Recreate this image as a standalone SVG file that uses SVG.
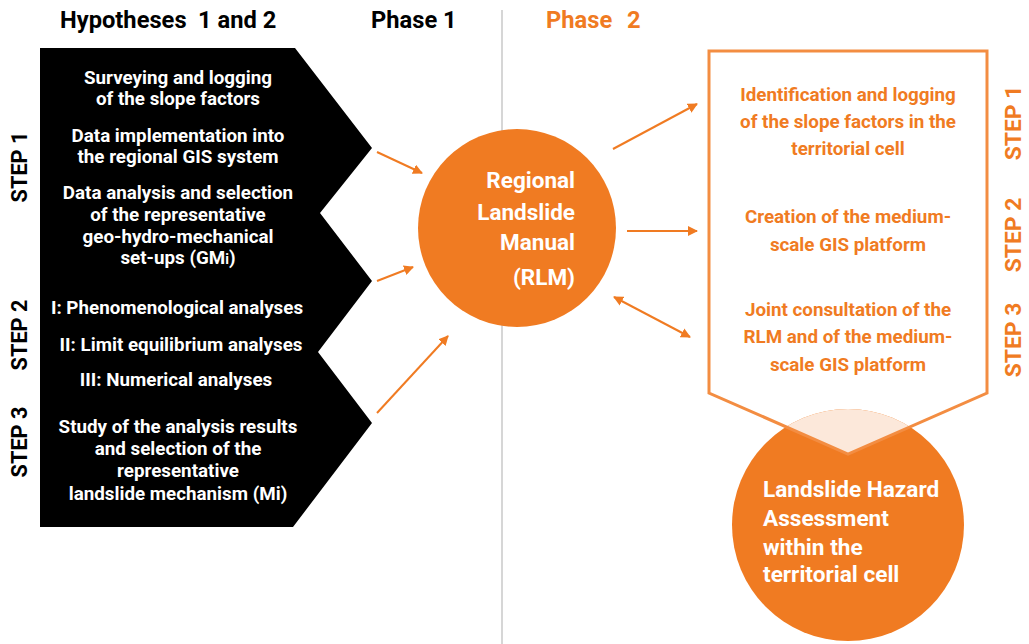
<svg xmlns="http://www.w3.org/2000/svg" width="1029" height="644" viewBox="0 0 1029 644">
<style>
text{font-family:Roboto,"Liberation Sans",sans-serif;font-weight:700}
.hdr{font-size:23.7px;fill:#000}
.wt{font-size:18.8px;fill:#fff;text-anchor:middle}
.ot{font-size:18.8px;fill:#F07B22;text-anchor:middle}
.stepL{font-size:21.7px;fill:#000;text-anchor:middle}
.stepR{font-size:22.9px;fill:#F07B22;text-anchor:middle}
.big{font-size:22.6px;fill:#fff}
.conn{stroke:#F07B22;stroke-width:2;fill:none}
</style>
<defs>
<marker id="ah" viewBox="0 0 10 10" refX="9" refY="5" markerWidth="5" markerHeight="5" orient="auto-start-reverse">
<path d="M0,0 L10,5 L0,10 z" fill="#F07B22"/>
</marker>
<clipPath id="pent"><polygon points="709,51 987,51 987,393 848,454 709,393"/></clipPath>
</defs>
<rect width="1029" height="644" fill="#fff"/>
<line x1="502" y1="10" x2="502" y2="644" stroke="#C8C8C8" stroke-width="1.5"/>
<g id="headers">
<text class="hdr" x="60" y="28">Hypotheses</text>
<text class="hdr" x="198" y="28">1 and 2</text>
<text class="hdr" x="371" y="28">Phase 1</text>
<text class="hdr" x="546" y="28" style="fill:#F07B22">Phase</text>
<text class="hdr" x="627" y="28" style="fill:#F07B22">2</text>
</g>
<g id="hypotheses">
<polygon points="40,48 295,48 372,148 320,213 372,281 318,352 372,423 293,527 40,527" fill="#000"/>
<text class="wt" x="178" y="84">Surveying and logging</text>
<text class="wt" x="178" y="105">of the slope factors</text>
<text class="wt" x="178" y="142">Data implementation into</text>
<text class="wt" x="178" y="163">the regional GIS system</text>
<text class="wt" x="178" y="199">Data analysis and selection</text>
<text class="wt" x="178" y="221">of the representative</text>
<text class="wt" x="178" y="243">geo-hydro-mechanical</text>
<text class="wt" x="178" y="264">set-ups (GM<tspan font-size="14">i</tspan>)</text>
<text class="wt" x="177" y="314">I: Phenomenological analyses</text>
<text class="wt" x="181" y="351">II: Limit equilibrium analyses</text>
<text class="wt" x="176" y="386">III: Numerical analyses</text>
<text class="wt" x="178" y="433">Study of the analysis results</text>
<text class="wt" x="178" y="455">and selection of the</text>
<text class="wt" x="178" y="477">representative</text>
<text class="wt" x="178" y="500">landslide mechanism (Mi)</text>
</g>
<g id="steps-left">
<text class="stepL" transform="translate(27,167) rotate(-90)">STEP 1</text>
<text class="stepL" transform="translate(27,335) rotate(-90)">STEP 2</text>
<text class="stepL" transform="translate(27,442) rotate(-90)">STEP 3</text>
</g>
<g id="rlm">
<circle cx="517" cy="228" r="99" fill="#F07B22"/>
<text x="575" y="188" font-size="22.5" fill="#fff" text-anchor="end">Regional</text>
<text x="575" y="220" font-size="22.5" fill="#fff" text-anchor="end">Landslide</text>
<text x="575" y="250" font-size="22.5" fill="#fff" text-anchor="end">Manual</text>
<text x="575" y="285" font-size="22.5" fill="#fff" text-anchor="end">(RLM)</text>
</g>
<g id="hazard">
<circle cx="848" cy="525" r="116" fill="#F07B22"/>
<circle cx="848" cy="525" r="116" fill="#FCE8DA" clip-path="url(#pent)"/>
<text class="big" x="763" y="497">Landslide Hazard</text>
<text class="big" x="763" y="526">Assessment</text>
<text class="big" x="763" y="555">within the</text>
<text class="big" x="763" y="582">territorial cell</text>
</g>
<g id="phase2-box">
<polygon points="709,51 987,51 987,393 848,454 709,393" fill="none" stroke="#F38D42" stroke-width="3"/>
<text class="ot" x="848" y="101">Identification and logging</text>
<text class="ot" x="848" y="128">of the slope factors in the</text>
<text class="ot" x="848" y="155">territorial cell</text>
<text class="ot" x="848" y="223">Creation of the medium-</text>
<text class="ot" x="848" y="251">scale GIS platform</text>
<text class="ot" x="848" y="316">Joint consultation of the</text>
<text class="ot" x="848" y="343">RLM and of the medium-</text>
<text class="ot" x="848" y="371">scale GIS platform</text>
</g>
<g id="steps-right">
<text class="stepR" transform="translate(1021,123) rotate(-90)">STEP 1</text>
<text class="stepR" transform="translate(1021,235) rotate(-90)">STEP 2</text>
<text class="stepR" transform="translate(1021,340) rotate(-90)">STEP 3</text>
</g>
<g id="connectors">
<line class="conn" x1="377" y1="152" x2="422" y2="173" marker-end="url(#ah)"/>
<line class="conn" x1="377" y1="281" x2="413" y2="267" marker-end="url(#ah)"/>
<line class="conn" x1="377" y1="413" x2="448" y2="336" marker-end="url(#ah)"/>
<line class="conn" x1="613" y1="149" x2="697" y2="104" marker-end="url(#ah)"/>
<line class="conn" x1="627" y1="231" x2="697" y2="231" marker-end="url(#ah)"/>
<line class="conn" x1="614" y1="297" x2="690" y2="337" marker-start="url(#ah)" marker-end="url(#ah)"/>
</g>
</svg>
